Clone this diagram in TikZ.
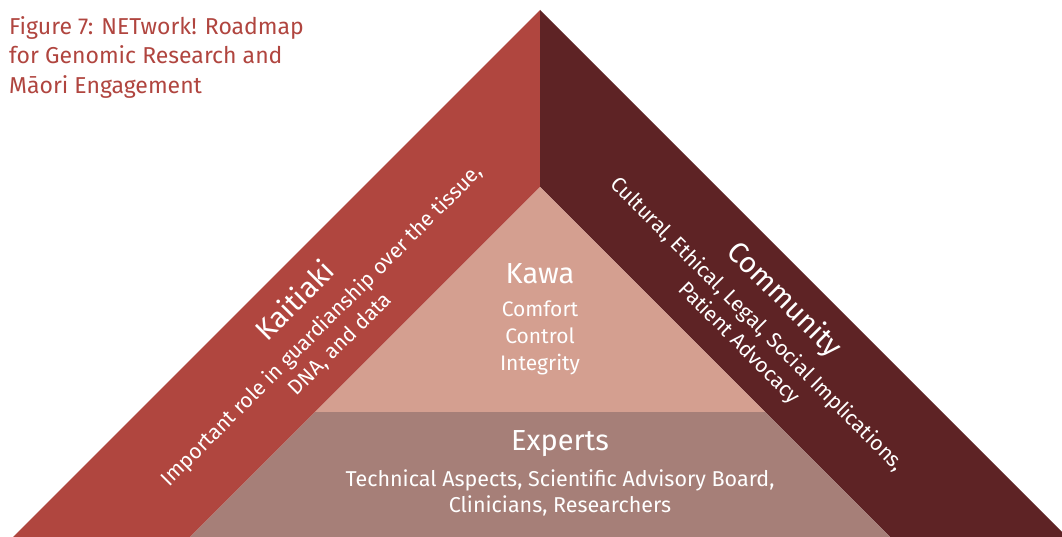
\documentclass[tikz,border=0pt]{standalone}
\usepackage{fontspec}
\setmainfont{Fira Sans}
\definecolor{kaitiakired}{HTML}{B0463F}
\definecolor{communitybrown}{HTML}{5E2325}
\definecolor{kawapink}{HTML}{D49F90}
\definecolor{expertsgray}{HTML}{A67F78}
\definecolor{titlered}{HTML}{B0453F}
\begin{document}
\begin{tikzpicture}[x=1pt,y=-1pt,
  lbl/.style={text=white,align=center,inner sep=0pt},
  head/.style={lbl,font=\fontsize{29}{32}\selectfont},
  sub/.style={lbl,font=\fontsize{21}{26}\selectfont}]
\useasboundingbox (0,0) rectangle (1062,537);
\coordinate (apex) at (540,10);
\coordinate (inapex) at (540,187);
\coordinate (inleft) at (315,412);
\coordinate (inright) at (765,412);
% outer bands
\fill[kaitiakired] (apex) -- (13,537) -- (190,537) -- (inapex) -- cycle;
\fill[communitybrown] (apex) -- (1067,537) -- (890,537) -- (inapex) -- cycle;
% inner triangle and base
\fill[kawapink] (inapex) -- (inleft) -- (inright) -- cycle;
\fill[expertsgray] (inleft) -- (190,537) -- (890,537) -- (inright) -- cycle;
% title
\node[anchor=north west,inner sep=0pt,align=left,text=titlered,
  font=\fontsize{23}{29.5}\selectfont] (title) at (9,16)
  {Figure 7: NETwork! Roadmap\\for Genomic Research and\\Māori Engagement};
% Kaitiaki
\node[head,rotate=45] (kaitiaki) at (294,300) {Kaitiaki};
\node[sub,rotate=45] (kaitiakitxt) at (331,335)
  {Important role in guardianship over the tissue,\\DNA, and data};
% Community
\node[head,rotate=-45] (community) at (784,300) {Community};
\node[sub,rotate=-45] (communitytxt) at (748,334)
  {Cultural, Ethical, Legal, Social Implications,\\Patient Advocacy};
% Kawa
\node[head] (kawa) at (540,274) {Kawa};
\node[sub,font=\fontsize{21}{27}\selectfont] (kawatxt) at (540,338)
  {Comfort\\Control\\Integrity};
% Experts
\node[head] (experts) at (560,444) {Experts};
\node[sub,font=\fontsize{21.5}{26.5}\selectfont] (expertstxt) at (560,493)
  {Technical Aspects, Scientific Advisory Board,\\Clinicians, Researchers};
\end{tikzpicture}
\end{document}
